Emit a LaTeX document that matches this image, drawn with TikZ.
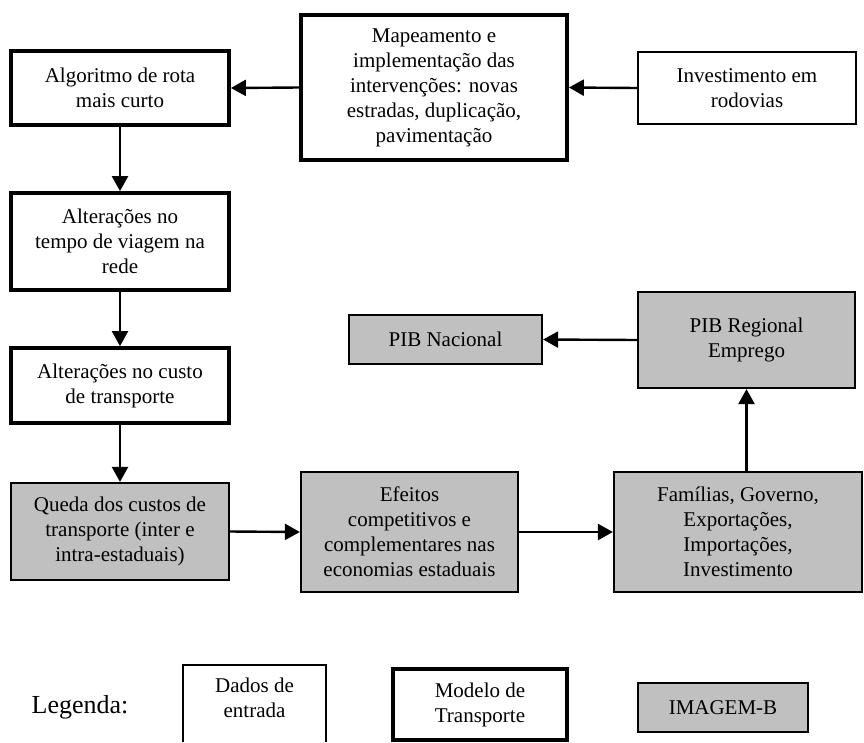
\documentclass[tikz,border=0pt]{standalone}
\usepackage{fontspec}
\setmainfont{Liberation Serif}
\usetikzlibrary{arrows.meta}
\begin{document}
\begin{tikzpicture}[x=1pt,y=-1pt,
  every node/.style={font=\fontsize{21}{25}\selectfont, align=center, inner sep=0pt},
  thinbox/.style={draw, line width=1.6pt},
  thickbox/.style={draw, line width=3.8pt},
  graybox/.style={draw, line width=2.2pt, fill={rgb,255:red,192;green,192;blue,192}},
  arr/.style={line width=2.4pt, -{Triangle[length=15pt,width=16pt]}}
]
\useasboundingbox (0,0) rectangle (864,742);
% top row
\node[thickbox, minimum width=266pt, minimum height=145pt] (map) at (434,87.5)
  {Mapeamento e\\implementação das\\intervenções: novas\\estradas, duplicação,\\pavimentação};
\node[thickbox, minimum width=218pt, minimum height=74pt] (alg) at (120,88)
  {Algoritmo de rota\\mais curto};
\node[thinbox, minimum width=218pt, minimum height=72pt] (inv) at (747,88)
  {Investimento em\\rodovias};
% left column
\node[thickbox, minimum width=218pt, minimum height=97pt] (tempo) at (120,241.5)
  {Alterações no\\tempo de viagem na\\rede};
\node[thickbox, minimum width=218pt, minimum height=75pt] (custo) at (120,385.5)
  {Alterações no custo\\de transporte};
\node[graybox, minimum width=218pt, minimum height=97pt] (queda) at (120,531.5)
  {Queda dos custos de\\transporte (inter e\\intra-estaduais)};
% bottom row
\node[graybox, minimum width=217pt, minimum height=120pt] (efe) at (409.5,532)
  {Efeitos\\competitivos e\\complementares nas\\economias estaduais};
\node[graybox, minimum width=248pt, minimum height=120pt] (fam) at (738,532)
  {Famílias, Governo,\\Exportações,\\Importações,\\Investimento};
% PIB
\node[graybox, minimum width=193pt, minimum height=49pt] (pibn) at (445.5,339.5)
  {PIB Nacional};
\node[graybox, minimum width=217pt, minimum height=96pt] (pibr) at (746.5,340)
  {PIB Regional\\Emprego};
% arrows
\draw[arr] (map.west) -- (alg.east);
\draw[arr] (inv.west) -- (map.east);
\draw[arr] (alg.south) -- (tempo.north);
\draw[arr] (tempo.south) -- (custo.north);
\draw[arr] (custo.south) -- (queda.north);
\draw[arr] (queda.east) -- (efe.west);
\draw[arr] (efe.east) -- (fam.west);
\draw[arr] (fam.north -| pibr.south) -- (pibr.south);
\draw[arr] (pibr.west) -- (pibn.east);
% legend
\node[font=\fontsize{26}{30}\selectfont] (leg) at (80,707) {Legenda:};
\node (dados) at (254.5,698) {Dados de\\entrada};
\coordinate (dbl) at (183,742);
\coordinate (dbr) at (326,742);
\draw[line width=1.6pt] (dbl) -- (183,665) -- (326,665) -- (dbr);
\node[thickbox, minimum width=174pt, minimum height=71pt] (mod) at (480,704.5)
  {Modelo de\\Transporte};
\node[graybox, minimum width=170pt, minimum height=49pt] (img) at (723,707.5)
  {IMAGEM-B};
\end{tikzpicture}
\end{document}
